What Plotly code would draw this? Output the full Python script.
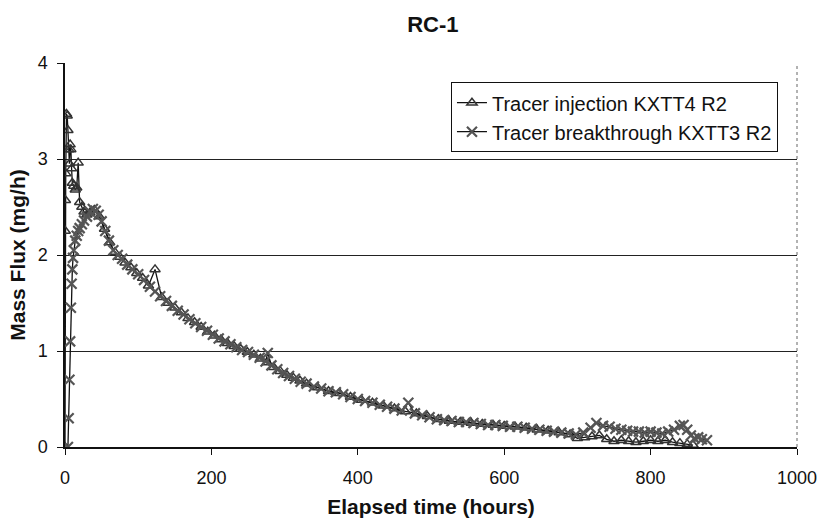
import plotly.graph_objects as go

# Tracer injection KXTT4 R2
inj_t = [0, 0.3, 0.6, 1, 2, 3, 4, 5, 6, 7, 8, 9, 10, 12, 14, 16, 18, 20, 23, 26, 30,
         34, 40, 47, 54, 61, 68, 75, 82, 90, 98, 106, 114, 123, 132, 141, 150, 159, 168,
         177, 186, 195, 204, 213, 222, 231, 240, 249, 258, 267, 276, 285, 294, 303, 312,
         321, 330, 345, 360, 375, 390, 405, 420, 435, 450, 465, 480, 495, 510, 525, 540,
         555, 570, 585, 600, 615, 630, 645, 660, 675, 690, 700, 710, 720, 730, 740, 750,
         760, 770, 780, 790, 800, 810, 820, 830, 840, 850, 858]
inj_y = [0.0, 2.25, 2.57, 2.85, 3.47, 3.45, 3.3, 3.1, 2.95, 3.15, 3.1, 2.9, 2.75, 2.72,
         2.68, 2.7, 2.96, 2.55, 2.5, 2.45, 2.42,
         2.44, 2.47, 2.4, 2.27, 2.13, 2.03, 1.98, 1.92, 1.87, 1.81, 1.76, 1.68, 1.85, 1.56,
         1.5, 1.45, 1.4, 1.34, 1.3, 1.25, 1.2, 1.16, 1.12, 1.08, 1.05, 1.02, 0.99, 0.96,
         0.92, 0.88, 0.83, 0.79, 0.75, 0.72, 0.69, 0.66, 0.62, 0.58, 0.56, 0.52, 0.49,
         0.46, 0.43, 0.40, 0.37, 0.35, 0.32, 0.29, 0.27, 0.26, 0.25, 0.24, 0.23, 0.22,
         0.21, 0.2, 0.18, 0.17, 0.15, 0.13, 0.09, 0.1, 0.11, 0.12, 0.08, 0.06, 0.07, 0.06,
         0.05, 0.06, 0.07, 0.06, 0.07, 0.05, 0.04, 0.03, 0.02]

# Tracer breakthrough KXTT3 R2
brk_t = [4, 5, 6, 7, 8, 9, 10, 11, 12, 14, 16, 18, 20, 23, 26, 30, 34, 38, 42, 46, 50,
         55, 60, 66, 72, 78, 85, 92, 100, 108, 116, 123, 130, 138, 146, 154, 162, 170,
         178, 186, 194, 202, 210, 218, 226, 234, 242, 250, 258, 266, 274, 277, 282, 290,
         298, 306, 314, 322, 330, 340, 350, 360, 370, 380, 390, 400, 410, 420, 430, 440,
         450, 460, 469, 478, 488, 498, 508, 518, 528, 538, 548, 558, 568, 578, 588, 598,
         608, 618, 628, 638, 648, 658, 668, 678, 688, 698, 708, 718, 726, 735, 744, 752,
         760, 768, 776, 784, 792, 800, 808, 816, 824, 832, 840, 845, 850, 855, 860, 865,
         870, 877]
brk_y = [0.0, 0.3, 0.7, 1.1, 1.45, 1.7, 1.85, 1.97, 2.05, 2.15, 2.2, 2.25, 2.28, 2.32,
         2.36, 2.4, 2.45, 2.48, 2.46, 2.42, 2.35, 2.25, 2.15, 2.05, 2.0, 1.96, 1.9, 1.85,
         1.8, 1.74, 1.67, 1.62, 1.57, 1.52, 1.47, 1.42, 1.38, 1.33, 1.29, 1.25, 1.21,
         1.17, 1.13, 1.10, 1.07, 1.04, 1.01, 0.99, 0.96, 0.93, 0.89, 0.98, 0.85, 0.81,
         0.77, 0.74, 0.71, 0.68, 0.66, 0.63, 0.61, 0.58, 0.57, 0.55, 0.52, 0.50, 0.48,
         0.46, 0.44, 0.42, 0.40, 0.38, 0.46, 0.35, 0.33, 0.31, 0.29, 0.28, 0.27, 0.26,
         0.26, 0.25, 0.24, 0.23, 0.23, 0.22, 0.21, 0.21, 0.20, 0.19, 0.18, 0.17, 0.16,
         0.15, 0.14, 0.13, 0.15, 0.2, 0.25, 0.22, 0.21, 0.19, 0.18, 0.17, 0.16, 0.16,
         0.15, 0.16, 0.15, 0.14, 0.16, 0.18, 0.22, 0.23, 0.18, 0.12, 0.09, 0.1, 0.08, 0.07]

x_ticks = [0, 200, 400, 600, 800, 1000]
y_ticks = [0, 1, 2, 3, 4]

FONT = "Liberation Sans, Arial, sans-serif"

fig = go.Figure()
fig.add_trace(go.Scatter(
    x=inj_t, y=inj_y, mode="lines+markers", name="Tracer injection KXTT4 R2",
    line=dict(color="#111111", width=1.3),
    marker=dict(symbol="triangle-up-open", size=9, color="#333333",
                line=dict(width=1.5, color="#333333")),
))
fig.add_trace(go.Scatter(
    x=brk_t, y=brk_y, mode="lines+markers", name="Tracer breakthrough KXTT3 R2",
    line=dict(color="#111111", width=1.3),
    marker=dict(symbol="x-thin-open", size=10, color="#555555",
                line=dict(width=2.2, color="#555555")),
))

fig.add_shape(type="line", xref="paper", yref="paper", x0=1, x1=1, y0=0, y1=1,
              line=dict(color="#666666", width=1, dash="dot"))

fig.update_layout(
    width=823, height=520,
    margin=dict(l=65, r=26, t=63, b=73, autoexpand=False),
    paper_bgcolor="white", plot_bgcolor="white",
    font=dict(family=FONT, size=18, color="#111111"),
    title=dict(text="<b>RC-1</b>", x=0.526, xref="container", xanchor="center",
               y=1 - 24 / 520, yref="container", yanchor="middle",
               font=dict(size=22, family=FONT, color="#111111")),
    showlegend=True,
    legend=dict(x=0.974, xanchor="right", y=0.95, yanchor="top",
                bgcolor="white", bordercolor="#111111", borderwidth=1,
                font=dict(size=20, family=FONT), itemwidth=30,
                tracegroupgap=2),
    xaxis=dict(range=[0, 1000], tickvals=x_ticks, ticktext=[str(v) for v in x_ticks],
               showgrid=False, zeroline=False, showline=True, linecolor="#111111",
               linewidth=1.5, ticks="outside", ticklen=6, tickcolor="#111111",
               ticklabelstandoff=8, automargin=False,
               title=dict(text="<b>Elapsed time (hours)</b>", font=dict(size=21),
                          standoff=12)),
    yaxis=dict(range=[0, 4], tickvals=y_ticks, ticktext=[str(v) for v in y_ticks],
               showgrid=True, gridcolor="#222222", gridwidth=1, zeroline=False,
               showline=True, linecolor="#111111", linewidth=1.5, ticks="outside",
               ticklen=6, tickcolor="#111111", ticklabelstandoff=6, automargin=False,
               title=dict(text="<b>Mass Flux (mg/h)</b>", font=dict(size=21),
                          standoff=6)),
)

fig.write_html("out.html")
